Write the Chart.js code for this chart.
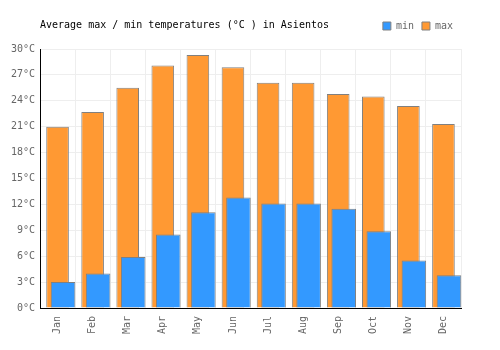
<!DOCTYPE html>
<html>
<head>
<meta charset="utf-8">
<title>Asientos temperatures</title>
<script src="https://cdn.jsdelivr.net/npm/chart.js@4/dist/chart.umd.min.js"></script>
<style>
  body { margin: 0; background: #fff; }
  canvas { display: block; }
</style>
</head>
<body>
<canvas id="tempChart" width="500" height="350"></canvas>
<script>
// Monthly averages
const months = ['Jan', 'Feb', 'Mar', 'Apr', 'May', 'Jun', 'Jul', 'Aug', 'Sep', 'Oct', 'Nov', 'Dec'];
const minTemps = [3.0, 4.0, 5.9, 8.5, 11.1, 12.8, 12.1, 12.1, 11.5, 8.9, 5.5, 3.8];
const maxTemps = [21.0, 22.7, 25.5, 28.1, 29.3, 27.9, 26.1, 26.1, 24.8, 24.5, 23.4, 21.3];

const monoFont = '"DejaVu Sans Mono", monospace';

// Shift the min bars a little to the right so they overlap the max bars like the original
const shiftMinBars = {
    id: 'shiftMinBars',
    beforeDatasetDraw(chart, args) {
        if (args.index === 0) {
            chart.ctx.save();
            chart.ctx.translate(5.5, 0);
        }
    },
    afterDatasetDraw(chart, args) {
        if (args.index === 0) {
            chart.ctx.restore();
        }
    }
};

// Leave some extra room under the legend row
const legendGap = {
    id: 'legendGap',
    beforeLayout(chart) {
        const legend = chart.legend;
        if (legend && !legend._gapPatched) {
            const fit = legend.fit;
            legend.fit = function () {
                fit.call(this);
                this.height += 8;
            };
            legend._gapPatched = true;
        }
    }
};

const ctx = document.getElementById('tempChart').getContext('2d');
const chart = new Chart(ctx, {
    type: 'bar',
    data: {
        labels: months,
        datasets: [
            {
                label: 'min',
                data: minTemps,
                backgroundColor: '#3399ff',
                borderColor: '#808080',
                borderWidth: 1,
                grouped: false,
                categoryPercentage: 1,
                barPercentage: 0.7,
            },
            {
                label: 'max',
                data: maxTemps,
                backgroundColor: '#ff9933',
                borderColor: '#808080',
                borderWidth: 1,
                grouped: false,
                categoryPercentage: 1,
                barPercentage: 0.645,
            },
        ],
    },
    options: {
        responsive: false,
        animation: false,
        layout: {
            padding: { left: 0, right: 39, top: 0, bottom: 0 },
        },
        plugins: {
            tooltip: { enabled: false },
            title: {
                display: true,
                fullSize: false,
                text: 'Average max / min temperatures (°C ) in Asientos',
                align: 'start',
                color: '#000',
                font: { family: monoFont, size: 10, weight: 'normal' },
                padding: { top: 19, bottom: -18 },
            },
            legend: {
                display: true,
                fullSize: false,
                position: 'top',
                align: 'end',
                labels: {
                    boxWidth: 8,
                    boxHeight: 8,
                    padding: 8,
                    color: '#666',
                    font: { family: monoFont, size: 10 },
                },
            },
        },
        scales: {
            x: {
                grid: { color: '#eeeeee', drawTicks: false },
                border: { color: '#000', width: 1 },
                ticks: {
                    color: '#666',
                    font: { family: monoFont, size: 10 },
                    maxRotation: 90,
                    minRotation: 90,
                    padding: 8,
                },
                afterFit(scale) { scale.height = 42; },
            },
            y: {
                min: 0,
                max: 30,
                grid: { color: '#eeeeee', drawTicks: false },
                border: { color: '#000', width: 1 },
                ticks: {
                    stepSize: 3,
                    color: '#666',
                    font: { family: monoFont, size: 10 },
                    padding: 5,
                    callback: value => value + '°C',
                },
                afterFit(scale) { scale.width = 40; },
            },
        },
    },
    plugins: [shiftMinBars, legendGap],
});
</script>
</body>
</html>
